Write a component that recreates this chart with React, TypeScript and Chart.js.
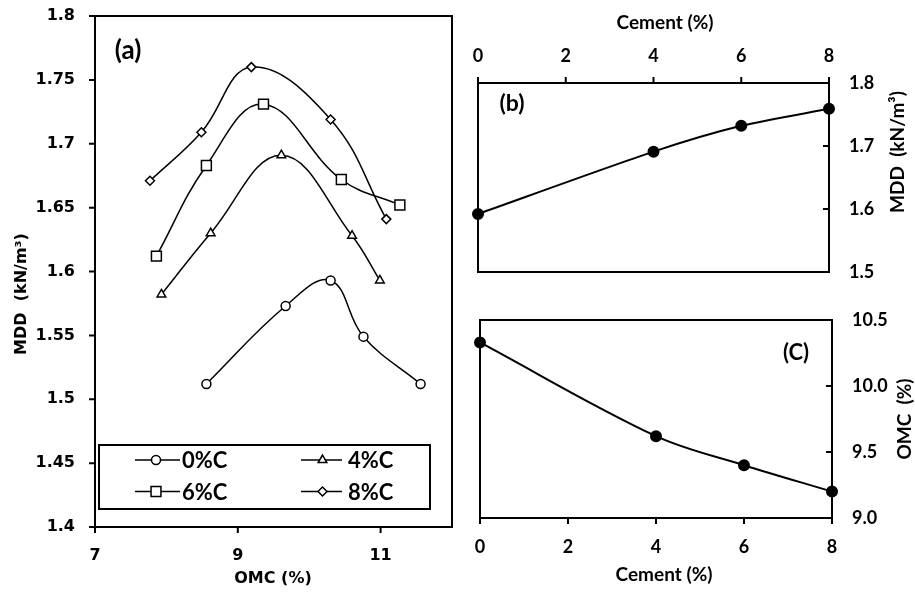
import { useEffect, useRef } from 'react';
import { Chart, registerables } from 'chart.js';
Chart.register(...registerables);

// ---------- data ----------
const SERIES_LABELS = ['0%C', '4%C', '6%C', '8%C'];
const OMC_0C = [8.56, 9.67, 10.3, 10.76, 11.56];
const MDD_0C = [1.512, 1.573, 1.593, 1.549, 1.512];
const OMC_4C = [7.93, 8.62, 9.61, 10.6, 10.99];
const MDD_4C = [1.582, 1.63, 1.691, 1.628, 1.593];
const OMC_6C = [7.86, 8.56, 9.36, 10.45, 11.27];
const MDD_6C = [1.612, 1.683, 1.731, 1.672, 1.652];
const OMC_8C = [7.77, 8.49, 9.19, 10.3, 11.08];
const MDD_8C = [1.671, 1.709, 1.76, 1.719, 1.641];

const CEMENT = [0, 4, 6, 8];
const MDD_MAX = [1.592, 1.691, 1.732, 1.759];
const OMC_OPT = [10.33, 9.62, 9.4, 9.2];

const OMC_TICKS = [7, 9, 11];
const MDD_TICKS_A = [1.4, 1.45, 1.5, 1.55, 1.6, 1.65, 1.7, 1.75, 1.8];
const CEMENT_TICKS = [0, 2, 4, 6, 8];
const MDD_TICKS_B = [1.5, 1.6, 1.7, 1.8];
const OMC_TICKS_C = [9.0, 9.5, 10.0, 10.5];

// ---------- styling ----------
const MARKERS = [
  { style: 'circle', r: 4.5 },
  { style: 'triangle', r: 5 },
  { style: 'rect', r: 7 },
  { style: 'rectRot', r: 4.5 },
];
const DEJAVU = '"DejaVu Sans"';
const LATO = 'Lato';

const toPts = (xs: number[], ys: number[]) => xs.map((x, i) => ({ x, y: ys[i] }));

type TickSpec = { id: string; side: 'left' | 'right' | 'top' | 'bottom'; dir: 'in' | 'out' };
type TextSpec = { text: string; x: number; y: number; font: string; rot?: number };

function drawFrame(chart: any, specs: TickSpec[]) {
  const { ctx, chartArea } = chart;
  const { left, right, top, bottom } = chartArea;
  ctx.save();
  ctx.strokeStyle = '#000';
  ctx.lineWidth = 2;
  ctx.strokeRect(left, top, right - left, bottom - top);
  ctx.beginPath();
  const L = 6;
  for (const s of specs) {
    const scale = chart.scales[s.id];
    for (const t of scale.ticks) {
      const p = scale.getPixelForValue(t.value);
      if (s.side === 'left') {
        ctx.moveTo(left, p);
        ctx.lineTo(s.dir === 'out' ? left - L : left + L, p);
      } else if (s.side === 'right') {
        ctx.moveTo(right, p);
        ctx.lineTo(s.dir === 'out' ? right + L : right - L, p);
      } else if (s.side === 'top') {
        ctx.moveTo(p, top);
        ctx.lineTo(p, s.dir === 'out' ? top - L : top + L);
      } else {
        ctx.moveTo(p, bottom);
        ctx.lineTo(p, s.dir === 'out' ? bottom + L : bottom - L);
      }
    }
  }
  ctx.stroke();
  ctx.restore();
}

function drawTexts(ctx: CanvasRenderingContext2D, items: TextSpec[], ox: number, oy: number) {
  ctx.save();
  ctx.fillStyle = '#000';
  ctx.textAlign = 'center';
  ctx.textBaseline = 'middle';
  for (const it of items) {
    ctx.save();
    ctx.translate(it.x - ox, it.y - oy);
    if (it.rot) ctx.rotate(it.rot);
    ctx.font = it.font;
    ctx.fillText(it.text, 0, 0);
    ctx.restore();
  }
  ctx.restore();
}

function drawMarker(ctx: CanvasRenderingContext2D, style: string, r: number, x: number, y: number) {
  ctx.beginPath();
  if (style === 'circle') {
    ctx.arc(x, y, r, 0, Math.PI * 2);
  } else if (style === 'triangle') {
    ctx.moveTo(x, y - r);
    ctx.lineTo(x + 0.866 * r, y + 0.5 * r);
    ctx.lineTo(x - 0.866 * r, y + 0.5 * r);
    ctx.closePath();
  } else if (style === 'rect') {
    const s = r * Math.SQRT1_2;
    ctx.rect(x - s, y - s, 2 * s, 2 * s);
  } else {
    ctx.moveTo(x, y - r);
    ctx.lineTo(x + r, y);
    ctx.lineTo(x, y + r);
    ctx.lineTo(x - r, y);
    ctx.closePath();
  }
  ctx.fillStyle = '#fff';
  ctx.fill();
  ctx.stroke();
}

const fixTicks = (vals: number[]) => (scale: any) => {
  scale.ticks = vals.map((value) => ({ value }));
};

function baseOptions(padding: any) {
  return {
    animation: false as const,
    responsive: false,
    maintainAspectRatio: false,
    devicePixelRatio: 1,
    layout: { padding },
    plugins: { legend: { display: false }, tooltip: { enabled: false } },
    events: [] as any[],
  };
}

function axis(opts: any) {
  const { position, min, max, ticks, size, font, pad, fmt } = opts;
  const horiz = position === 'top' || position === 'bottom';
  return {
    type: 'linear',
    position,
    min,
    max,
    afterBuildTicks: fixTicks(ticks),
    afterFit: (s: any) => {
      if (horiz) s.height = size;
      else s.width = size;
      s.paddingTop = 0;
      s.paddingBottom = 0;
      s.paddingLeft = 0;
      s.paddingRight = 0;
    },
    grid: { display: false, drawTicks: false },
    border: { display: false },
    ticks: {
      color: '#000',
      font,
      padding: pad,
      autoSkip: false,
      maxRotation: 0,
      minRotation: 0,
      callback: fmt,
    },
  };
}

function PanelA() {
  const ref = useRef<HTMLCanvasElement>(null);
  useEffect(() => {
    const ox = 0, oy = 0;
    const xsList = [OMC_0C, OMC_4C, OMC_6C, OMC_8C];
    const ysList = [MDD_0C, MDD_4C, MDD_6C, MDD_8C];
    const datasets = SERIES_LABELS.map((label, i) => ({
      label,
      data: toPts(xsList[i], ysList[i]),
      showLine: true,
      borderColor: '#000',
      borderWidth: 1.5,
      backgroundColor: '#fff',
      pointStyle: MARKERS[i].style,
      pointRadius: MARKERS[i].r,
      pointBorderWidth: 1.5,
      pointBorderColor: '#000',
      pointBackgroundColor: '#fff',
      tension: 0.4,
      clip: false,
    }));
    const texts: TextSpec[] = [
      { text: '(a)', x: 128, y: 51, font: `bold 26px ${LATO}` },
      { text: 'OMC (%)', x: 273, y: 579, font: `bold 16px ${DEJAVU}` },
      { text: 'MDD  (kN/m³)', x: 22, y: 294, font: `bold 16px ${DEJAVU}`, rot: -Math.PI / 2 },
    ];
    const plugin = {
      id: 'frameA',
      beforeDatasetsDraw(chart: any) {
        drawFrame(chart, [
          { id: 'x', side: 'bottom', dir: 'out' },
          { id: 'y', side: 'left', dir: 'out' },
        ]);
      },
      afterDatasetsDraw(chart: any) {
        const ctx = chart.ctx as CanvasRenderingContext2D;
        ctx.save();
        // legend box
        const bx = 99 - ox, by = 445 - oy, bw = 331, bh = 64;
        ctx.fillStyle = '#fff';
        ctx.fillRect(bx, by, bw, bh);
        ctx.strokeStyle = '#000';
        ctx.lineWidth = 2;
        ctx.strokeRect(bx, by, bw, bh);
        const cols = [
          { l1: 135, l2: 180, m: 156, t: 182 },
          { l1: 301, l2: 342, m: 322.5, t: 348 },
        ];
        const rows = [460, 491.5];
        SERIES_LABELS.forEach((label, i) => {
          const c = cols[i % 2];
          const y = rows[Math.floor(i / 2)] - oy;
          ctx.strokeStyle = '#000';
          ctx.lineWidth = 1.5;
          ctx.beginPath();
          ctx.moveTo(c.l1 - ox, y);
          ctx.lineTo(c.l2 - ox, y);
          ctx.stroke();
          drawMarker(ctx, MARKERS[i].style, MARKERS[i].r, c.m - ox, y);
          ctx.fillStyle = '#000';
          ctx.font = `bold 22px ${LATO}`;
          ctx.textAlign = 'left';
          ctx.textBaseline = 'middle';
          ctx.fillText(label, c.t - ox, y + 1);
        });
        ctx.restore();
      },
      afterDraw(chart: any) {
        drawTexts(chart.ctx, texts, ox, oy);
      },
    };
    const chart = new Chart(ref.current!, {
      type: 'scatter',
      data: { datasets } as any,
      options: {
        ...baseOptions({ top: 16, right: 10, bottom: 0, left: 0 }),
        scales: {
          x: axis({
            position: 'bottom', min: 7, max: 12, ticks: OMC_TICKS, size: 65,
            font: { family: DEJAVU, size: 16, weight: 'bold' }, pad: 19,
            fmt: (v: number) => String(v),
          }),
          y: axis({
            position: 'left', min: 1.4, max: 1.8, ticks: MDD_TICKS_A, size: 95,
            font: { family: DEJAVU, size: 16, weight: 'bold' }, pad: 20,
            fmt: (v: number) => String(+Number(v).toFixed(2)),
          }),
        },
      } as any,
      plugins: [plugin],
    });
    return () => chart.destroy();
  }, []);
  return (
    <canvas ref={ref} width={462} height={592}
      style={{ position: 'absolute', left: 0, top: 0, width: 462, height: 592 }} />
  );
}

function PanelB() {
  const ref = useRef<HTMLCanvasElement>(null);
  useEffect(() => {
    const ox = 462, oy = 0;
    const texts: TextSpec[] = [
      { text: 'Cement (%)', x: 665, y: 23, font: `bold 19px ${LATO}` },
      { text: '(b)', x: 512, y: 104, font: `bold 23px ${LATO}` },
      { text: 'MDD  (kN/m³)', x: 898, y: 152, font: `bold 19px ${LATO}`, rot: -Math.PI / 2 },
    ];
    const plugin = {
      id: 'frameB',
      beforeDatasetsDraw(chart: any) {
        drawFrame(chart, [
          { id: 'x', side: 'top', dir: 'out' },
          { id: 'y', side: 'right', dir: 'in' },
        ]);
      },
      afterDraw(chart: any) {
        drawTexts(chart.ctx, texts, ox, oy);
      },
    };
    const chart = new Chart(ref.current!, {
      type: 'scatter',
      data: {
        datasets: [{
          label: 'MDD',
          data: toPts(CEMENT, MDD_MAX),
          showLine: true,
          borderColor: '#000',
          borderWidth: 2,
          pointRadius: 5,
          pointBackgroundColor: '#000',
          pointBorderColor: '#000',
          tension: 0.25,
          clip: false,
        }],
      } as any,
      options: {
        ...baseOptions({ top: 0, right: 0, bottom: 28, left: 16 }),
        scales: {
          x: axis({
            position: 'top', min: 0, max: 8, ticks: CEMENT_TICKS, size: 83,
            font: { family: LATO, size: 18, weight: 'bold' }, pad: 16,
            fmt: (v: number) => String(v),
          }),
          y: axis({
            position: 'right', min: 1.5, max: 1.8, ticks: MDD_TICKS_B, size: 86,
            font: { family: LATO, size: 18, weight: 'bold' }, pad: 20,
            fmt: (v: number) => Number(v).toFixed(1),
          }),
        },
      } as any,
      plugins: [plugin],
    });
    return () => chart.destroy();
  }, []);
  return (
    <canvas ref={ref} width={453} height={300}
      style={{ position: 'absolute', left: 462, top: 0, width: 453, height: 300 }} />
  );
}

function PanelC() {
  const ref = useRef<HTMLCanvasElement>(null);
  useEffect(() => {
    const ox = 462, oy = 300;
    const texts: TextSpec[] = [
      { text: 'Cement (%)', x: 664, y: 575, font: `bold 19px ${LATO}` },
      { text: '(C)', x: 796, y: 353, font: `bold 22px ${LATO}` },
      { text: 'OMC  (%)', x: 905, y: 419, font: `bold 19px ${LATO}`, rot: -Math.PI / 2 },
    ];
    const plugin = {
      id: 'frameC',
      beforeDatasetsDraw(chart: any) {
        drawFrame(chart, [
          { id: 'x', side: 'bottom', dir: 'out' },
          { id: 'y', side: 'right', dir: 'in' },
        ]);
      },
      afterDraw(chart: any) {
        drawTexts(chart.ctx, texts, ox, oy);
      },
    };
    const chart = new Chart(ref.current!, {
      type: 'scatter',
      data: {
        datasets: [{
          label: 'OMC',
          data: toPts(CEMENT, OMC_OPT),
          showLine: true,
          borderColor: '#000',
          borderWidth: 2,
          pointRadius: 5,
          pointBackgroundColor: '#000',
          pointBorderColor: '#000',
          tension: 0.35,
          clip: false,
        }],
      } as any,
      options: {
        ...baseOptions({ top: 20, right: 0, bottom: 0, left: 18 }),
        scales: {
          x: axis({
            position: 'bottom', min: 0, max: 8, ticks: CEMENT_TICKS, size: 74,
            font: { family: LATO, size: 18, weight: 'bold' }, pad: 18,
            fmt: (v: number) => String(v),
          }),
          y: axis({
            position: 'right', min: 9, max: 10.5, ticks: OMC_TICKS_C, size: 83,
            font: { family: LATO, size: 18, weight: 'bold' }, pad: 20,
            fmt: (v: number) => Number(v).toFixed(1),
          }),
        },
      } as any,
      plugins: [plugin],
    });
    return () => chart.destroy();
  }, []);
  return (
    <canvas ref={ref} width={453} height={292}
      style={{ position: 'absolute', left: 462, top: 300, width: 453, height: 292 }} />
  );
}

export default function App() {
  return (
    <div style={{ position: 'absolute', left: 0, top: 0, width: 915, height: 592, background: '#fff', overflow: 'hidden' }}>
      <PanelA />
      <PanelB />
      <PanelC />
    </div>
  );
}
